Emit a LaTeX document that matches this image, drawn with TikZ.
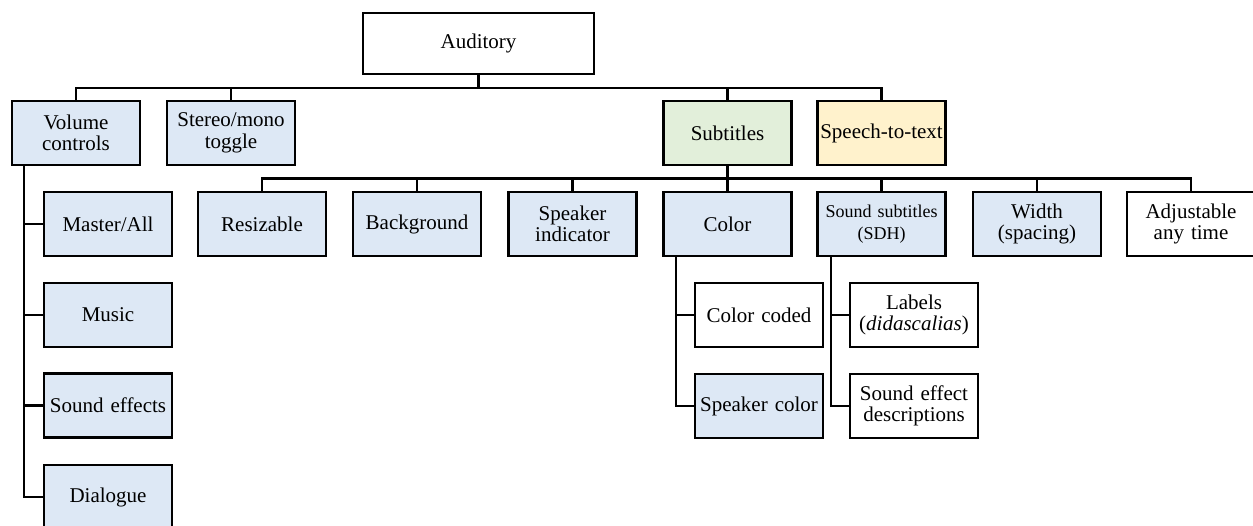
\documentclass[tikz,border=0pt]{standalone}
\usepackage{fontspec}
\setmainfont{Liberation Serif}
\definecolor{boxblue}{HTML}{DDE8F5}
\definecolor{boxgreen}{HTML}{E2EFDA}
\definecolor{boxyellow}{HTML}{FFF2CC}
\tikzset{
  box/.style={draw=black, line width=2.8pt, fill=white, minimum width=128pt,
    minimum height=64pt, inner sep=0pt, align=center, text width=128pt,
    font=\fontsize{21pt}{21.5pt}\selectfont},
  blue/.style={box, fill=boxblue},
  conn/.style={draw=black, line width=2.8pt},
}
\begin{document}
\begin{tikzpicture}[x=1pt, y=-1pt]
\useasboundingbox (0,0) rectangle (1253,525);

% root
\node[box, minimum width=231pt, text width=231pt, minimum height=61pt] (aud) at (478.5,43.5) {Auditory};

% first level
\node[blue] (vol) at (76,133) {Volume\\controls};
\node[blue] (ster) at (231,133) {Stereo/mono\\toggle};
\node[box, fill=boxgreen] (sub) at (727.5,133) {Subtitles};
\node[box, fill=boxyellow] (spt) at (881.5,133) {Speech-to-text};

% subtitle options
\node[blue] (res) at (262,224) {Resizable};
\node[blue] (bg) at (417,224) {Background};
\node[blue] (spk) at (572.5,224) {Speaker\\indicator};
\node[blue] (col) at (727.5,224) {Color};
\node[blue, font=\fontsize{18pt}{21.5pt}\selectfont] (sdh) at (881.5,224) {Sound subtitles\\(SDH)};
\node[blue] (wid) at (1037,224) {Width\\(spacing)};
\node[box] (adj) at (1191,224) {Adjustable\\any time};

% volume channels
\node[blue] (mst) at (108,224) {Master/All};
\node[blue] (mus) at (108,315) {Music};
\node[blue] (sfx) at (108,405.5) {Sound effects};
\node[blue] (dlg) at (108,497) {Dialogue};

% colour options
\node[box] (cc) at (759,315) {Color coded};
\node[blue] (sc) at (759,406) {Speaker color};

% SDH options
\node[box] (lab) at (914,315) {Labels\\(\textit{didascalias})};
\node[box] (sed) at (914,406) {Sound effect\\descriptions};

% bus lines
\coordinate (b1) at (0,88);
\coordinate (b2) at (0,178.5);
\coordinate (vx) at (24,0);
\coordinate (cx) at (676,0);
\coordinate (sx) at (831,0);

\draw[conn] (aud.south) -- (aud.south |- b1);
\draw[conn] (vol.north) -- (vol.north |- b1) -| (spt.north);
\draw[conn] (ster.north) -- (ster.north |- b1);
\draw[conn] (sub.north) -- (sub.north |- b1);

\draw[conn] (sub.south) -- (sub.south |- b2);
\draw[conn] (res.north) -- (res.north |- b2) -| (adj.north);
\foreach \n in {bg,spk,col,sdh,wid}
  \draw[conn] (\n.north) -- (\n.north |- b2);

\draw[conn] (vx |- vol.south) |- (dlg.west);
\foreach \n in {mst,mus,sfx}
  \draw[conn] (vx |- \n.west) -- (\n.west);

\draw[conn] (cx |- col.south) |- (sc.west);
\draw[conn] (cx |- cc.west) -- (cc.west);

\draw[conn] (sx |- sdh.south) |- (sed.west);
\draw[conn] (sx |- lab.west) -- (lab.west);
\end{tikzpicture}
\end{document}
